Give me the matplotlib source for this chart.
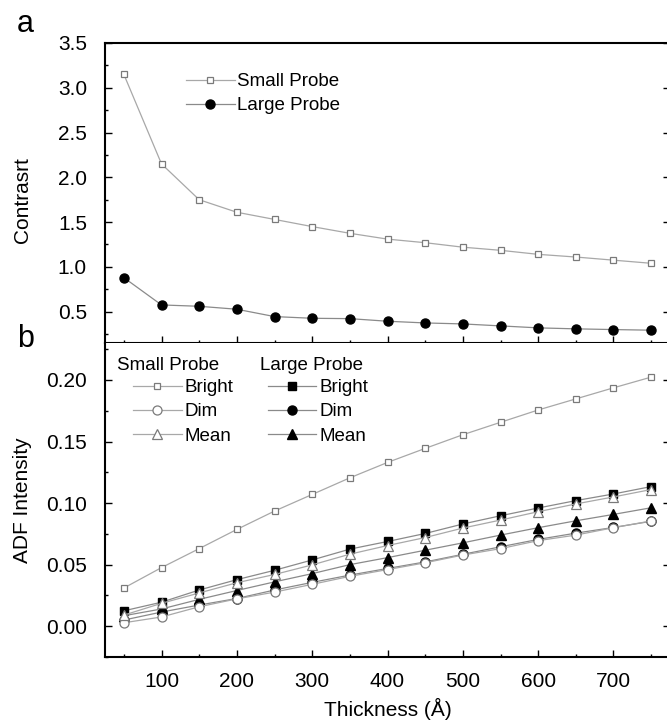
import matplotlib
matplotlib.use("Agg")
import matplotlib.pyplot as plt
from matplotlib.ticker import MultipleLocator, FormatStrFormatter

plt.rcParams["font.family"] = ["Liberation Sans", "DejaVu Sans"]
plt.rcParams["font.size"] = 15

# Thickness values (Angstrom)
thickness = [50, 100, 150, 200, 250, 300, 350, 400, 450, 500, 550, 600, 650, 700, 750]

# Panel a: contrast
contrast_small = [3.15, 2.15, 1.75, 1.61, 1.53, 1.45, 1.375, 1.31, 1.27, 1.22,
                  1.185, 1.14, 1.11, 1.075, 1.04]
contrast_large = [0.88, 0.575, 0.56, 0.527, 0.445, 0.426, 0.422, 0.393, 0.374, 0.363,
                  0.341, 0.319, 0.308, 0.30, 0.293]

# Panel b: ADF intensity
small_bright = [0.031, 0.0476, 0.063, 0.0786, 0.0935, 0.107, 0.1205, 0.133, 0.1444,
                0.1555, 0.1656, 0.1756, 0.1846, 0.1936, 0.2023]
small_dim = [0.0028, 0.0075, 0.0158, 0.0222, 0.0277, 0.034, 0.0405, 0.046, 0.0515,
             0.0578, 0.063, 0.0695, 0.074, 0.080, 0.0855]
small_mean = [0.009, 0.0186, 0.027, 0.0353, 0.042, 0.0498, 0.0585, 0.0655, 0.072,
              0.0797, 0.0862, 0.093, 0.0993, 0.105, 0.111]
large_bright = [0.0125, 0.0195, 0.0294, 0.0378, 0.0454, 0.0538, 0.0626, 0.0688, 0.0753,
                0.083, 0.0897, 0.096, 0.102, 0.1074, 0.1134]
large_dim = [0.005, 0.0115, 0.0172, 0.0225, 0.0294, 0.0356, 0.0415, 0.0469, 0.0522,
             0.0584, 0.0645, 0.0705, 0.0756, 0.0802, 0.0852]
large_mean = [0.0085, 0.014, 0.0218, 0.029, 0.036, 0.0427, 0.050, 0.0557, 0.0617,
              0.0677, 0.074, 0.080, 0.0856, 0.0908, 0.0962]

W, H = 667, 727
fig = plt.figure(figsize=(W / 100, H / 100), dpi=100)

left, right = 105, 670
top_a, mid, bot_b = 43, 343, 657
ax_a = fig.add_axes([left / W, 1 - mid / H, (right - left) / W, (mid - top_a) / H])
ax_b = fig.add_axes([left / W, 1 - bot_b / H, (right - left) / W, (bot_b - mid) / H])

SMALL_LINE = "#a8a8a8"
SMALL_EDGE = "#7a7a7a"
LARGE_LINE = "#8a8a8a"
LEG_FS = 13.5
leg_kw = dict(loc="upper left", frameon=False, borderpad=0, borderaxespad=0,
              handlelength=2.6, handletextpad=0.15, labelspacing=0.38, fontsize=LEG_FS)

# --- panel a ---
ax_a.plot(thickness, contrast_small, color=SMALL_LINE, lw=0.9, marker="s", ms=5,
          mfc="white", mec=SMALL_EDGE, mew=0.9, label="Small Probe")
ax_a.plot(thickness, contrast_large, color=LARGE_LINE, lw=0.9, marker="o", ms=6.5,
          mfc="black", mec="black", label="Large Probe")
ax_a.set_ylim(0.15, 3.5)
ax_a.yaxis.set_major_locator(MultipleLocator(0.5))
ax_a.yaxis.set_minor_locator(MultipleLocator(0.25))
ax_a.yaxis.set_major_formatter(FormatStrFormatter("%.1f"))
ax_a.set_ylabel("Contrasrt")
ax_a.yaxis.set_label_coords(-0.129, 0.477)
ax_a.tick_params(labelbottom=False)
ax_a.legend(bbox_to_anchor=(0.143, 0.90), **leg_kw)

# --- panel b ---
ax_b.plot(thickness, large_bright, color=LARGE_LINE, lw=0.9, marker="s", ms=5.5,
          mfc="black", mec="black", label="Bright")
ax_b.plot(thickness, large_dim, color=LARGE_LINE, lw=0.9, marker="o", ms=6.5,
          mfc="black", mec="black", label="Dim")
ax_b.plot(thickness, large_mean, color=LARGE_LINE, lw=0.9, marker="^", ms=6.5,
          mfc="black", mec="black", label="Mean")
ax_b.plot(thickness, small_bright, color=SMALL_LINE, lw=0.9, marker="s", ms=5,
          mfc="white", mec=SMALL_EDGE, mew=0.9, label="Bright")
ax_b.plot(thickness, small_dim, color=SMALL_LINE, lw=0.9, marker="o", ms=6.5,
          mfc="white", mec=SMALL_EDGE, mew=0.9, label="Dim")
ax_b.plot(thickness, small_mean, color=SMALL_LINE, lw=0.9, marker="^", ms=6.5,
          mfc="white", mec=SMALL_EDGE, mew=0.9, label="Mean")
ax_b.set_ylim(-0.025, 0.23)
ax_b.yaxis.set_major_locator(MultipleLocator(0.05))
ax_b.yaxis.set_minor_locator(MultipleLocator(0.025))
ax_b.yaxis.set_major_formatter(FormatStrFormatter("%.2f"))
ax_b.set_ylabel("ADF Intensity")
ax_b.yaxis.set_label_coords(-0.129, 0.5)
ax_b.set_xlabel("Thickness (Å)", labelpad=5)

lines = ax_b.get_lines()
leg_small = ax_b.legend(lines[3:], ["Bright", "Dim", "Mean"],
                        bbox_to_anchor=(0.0496, 0.885), **leg_kw)
ax_b.add_artist(leg_small)
ax_b.legend(lines[:3], ["Bright", "Dim", "Mean"],
            bbox_to_anchor=(0.288, 0.885), **leg_kw)
ax_b.text(0.021, 0.914, "Small Probe", transform=ax_b.transAxes, va="baseline",
          fontsize=LEG_FS)
ax_b.text(0.274, 0.914, "Large Probe", transform=ax_b.transAxes, va="baseline",
          fontsize=LEG_FS)

# shared axis styling
for ax in (ax_a, ax_b):
    ax.set_xlim(25, 775)
    ax.xaxis.set_major_locator(MultipleLocator(100))
    ax.xaxis.set_minor_locator(MultipleLocator(50))
    ax.tick_params(which="both", direction="in", right=True, width=1.0)
    ax.tick_params(axis="y", pad=13)
    ax.tick_params(axis="x", pad=11)
    ax.tick_params(which="major", length=5)
    ax.tick_params(which="minor", length=2.5)
    for s in ax.spines.values():
        s.set_linewidth(1.5)
ax_b.spines["top"].set_visible(False)

fig.text(17 / W, 1 - 32 / H, "a", fontsize=22, va="baseline")
fig.text(17 / W, 1 - 347 / H, "b", fontsize=22, va="baseline")

plt.savefig("out.png", dpi=100)
plt.close()
